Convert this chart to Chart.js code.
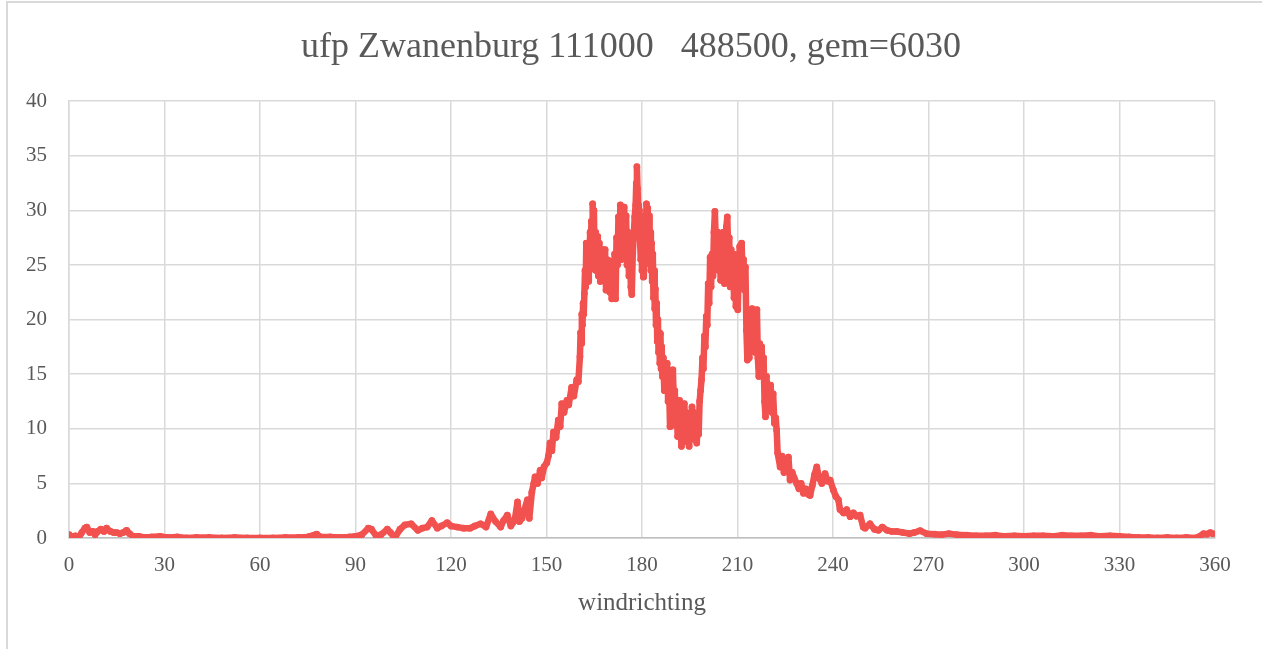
<!DOCTYPE html>
<html>
<head>
<meta charset="utf-8">
<script src="https://cdn.jsdelivr.net/npm/chart.js@4/dist/chart.umd.min.js"></script>
<style>
  html, body { margin: 0; padding: 0; background: #ffffff; overflow: hidden; }
  #frame {
    position: absolute; left: 6px; top: 1px; width: 1300px; height: 700px;
    border-left: 2px solid #d9d9d9; border-top: 2px solid #d9d9d9;
  }
  #wrap { position: absolute; left: 0; top: 0; width: 1262px; height: 649px; }
</style>
</head>
<body>
<div id="frame"></div>
<div id="wrap"><canvas id="ufp-chart" width="1262" height="649"></canvas></div>
<script>
// wind direction (degrees), ten readings per row
const windDir = [
  0, 1, 2, 3, 4, 5, 5.6, 6.5, 7.5, 8.2,
  9, 10, 11, 11.8, 13, 14, 15, 16, 17, 18.1,
  19, 20.2, 22, 24, 26, 28.7, 31, 34, 37, 40,
  44, 48, 52, 56, 60, 64, 68, 72, 75, 77.8,
  79, 82, 85, 88, 90, 92, 94, 95, 96.5, 98,
  100, 101, 102.3, 104, 105.5, 107.5, 109.6, 111, 112.5, 114,
  115.7, 117, 118.8, 120, 122, 124, 126, 127.5, 129.3, 131,
  132.5, 134, 135.6, 136.5, 137.7, 138.8, 140, 140.9, 141.5, 142.3,
  143, 144, 144.6, 145.4, 146, 146.4, 147.2, 148, 148.5, 149.2,
  150.1, 150.6, 151.1, 151.7, 152.2, 153, 153.7, 154.3, 154.8, 155.5,
  156.4, 157, 157.9, 158.6, 159.5, 160,
  160.5, 160.7, 160.9, 161.1, 161.3, 161.5, 161.7, 161.9, 162.1, 162.3,
  162.5, 162.7, 162.9, 163.1, 163.3, 163.5, 163.7, 163.9, 164.1, 164.3,
  164.5, 164.7, 164.9, 165.1, 165.3, 165.5, 165.7, 165.9, 166.1, 166.3,
  166.6, 166.9, 167.2, 167.5, 167.8, 168.1, 168.4, 168.7, 169, 169.3,
  169.6, 169.9, 170.2, 170.5, 170.8, 171.1, 171.4, 171.7, 172, 172.3,
  172.6, 172.9, 173.2, 173.5, 173.8, 174.1, 174.4, 174.7, 175, 175.3,
  175.6, 175.9, 176.2, 176.5, 176.8, 177.1, 177.4, 177.7, 178, 178.2,
  178.4, 178.6, 178.8, 179, 179.2, 179.4, 179.6, 179.8, 180, 180.2,
  180.4, 180.6, 180.8, 181, 181.2, 181.4, 181.6, 181.8, 182, 182.2,
  182.4, 182.6, 182.8, 183, 183.2, 183.4, 183.6, 183.8, 184, 184.2,
  184.4, 184.6, 184.8, 185, 185.2, 185.4, 185.6, 185.8, 186, 186.2,
  186.4, 186.7, 187, 187.3, 187.6, 187.9, 188.2, 188.5, 188.8, 189.1,
  189.4, 189.7, 190, 190.3, 190.6, 190.9, 191.2, 191.5, 191.8, 192.1,
  192.4, 192.7, 193, 193.3, 193.6, 193.9, 194.2, 194.5, 194.8, 195.1,
  195.4, 195.7, 196, 196.3, 196.6, 196.9, 197.2, 197.5, 197.8, 198.1,
  198.4, 198.7, 199, 199.3, 199.6, 199.9, 200.2, 200.5, 200.8, 201.1,
  201.4, 201.7, 202, 202.3, 202.6, 202.9, 203.2, 203.5, 203.8, 204.1,
  204.4, 204.7, 205, 205.3, 205.6, 205.9, 206.2, 206.5, 206.8, 207.1,
  207.4, 207.7, 208, 208.3, 208.6, 208.9, 209.2, 209.5, 209.8, 210.1,
  210.4, 210.7, 211, 211.3, 211.6, 211.9, 212.2, 212.5, 212.8, 213.1,
  213.4, 213.7, 214, 214.3, 214.6, 214.9, 215.2, 215.5, 215.8, 216.1,
  216.4, 216.7, 217, 217.3, 217.6, 217.9, 218.2, 218.5, 218.8, 219.1,
  219.4, 219.7, 220, 220.4, 220.8, 221.2, 221.6, 222, 222.3, 222.6,
  223.4, 224, 224.6, 225.3, 226, 226.5, 227.2, 227.8, 228.6, 229.3,
  230, 230.7, 231.5, 232.2, 232.8, 233.5, 234.2, 234.9, 235.6, 236.5,
  237.5, 238.3, 239.1, 240.1, 240.9, 241.7, 242.2, 243.3, 244.3, 245.4,
  246.4, 247.4, 248.5, 249.5, 250.1, 251.6, 253, 254.3, 255.5, 257,
  258.5, 260, 262, 264, 265.5, 267.4, 269.4, 272, 274, 276.4,
  279, 282, 285, 288, 291, 294, 297, 300, 303, 306,
  309, 312, 315, 318, 321, 324, 327, 330, 333, 336,
  339, 342, 345, 348, 351, 354, 355.5, 356.4, 357.5, 358.5,
  359.3
];
// ufp concentration at each wind direction above
const ufp = [
  0.3, 0.1, 0.2, 0.0, 0.5, 0.9, 1.0, 0.5, 0.6, 0.3,
  0.6, 0.8, 0.6, 0.9, 0.6, 0.5, 0.5, 0.4, 0.5, 0.7,
  0.4, 0.15, 0.15, 0.05, 0.1, 0.15, 0.05, 0.1, 0.0, 0.05,
  0.05, 0.0, 0.05, 0.0, 0.0, 0.0, 0.05, 0.05, 0.1, 0.35,
  0.1, 0.1, 0.05, 0.1, 0.15, 0.3, 0.9, 0.8, 0.2, 0.3,
  0.8, 0.5, 0.0, 0.8, 1.2, 1.3, 0.7, 0.9, 1.0, 1.6,
  0.9, 1.1, 1.4, 1.1, 1.0, 0.9, 0.9, 1.1, 1.3, 1.0,
  2.2, 1.5, 1.0, 1.6, 2.1, 1.1, 1.6, 3.3, 1.5, 1.8,
  2.5, 3.5, 1.8, 4.2, 5.0, 5.6, 5.0, 6.2, 5.5, 6.5,
  6.9, 7.5, 8.7, 8.0, 9.7, 9.2, 10.8, 10.2, 12.3, 11.5,
  12.6, 12.2, 13.8, 13.0, 14.5, 14.3,
  16.6, 18.8, 17.8, 20.5, 19.5, 21.5, 20.5, 22.4, 24.5, 23,
  27, 24, 26.5, 23.5, 27, 24.5, 28, 25, 29, 26,
  30.6, 27, 30, 25.5, 28, 24.5, 27.5, 24.8, 27.6, 24,
  27, 23.5, 26, 23.6, 26.4, 24, 26.4, 22.7, 25.5, 23,
  25.4, 22.5, 24.5, 21.9, 24, 22, 26, 21.9, 27.5, 25,
  29.4, 26, 30.5, 25.5, 29, 26, 30.3, 27, 29.5, 25,
  28, 24, 27, 23, 22.3, 26, 27.6, 29.4, 30.5, 32.5,
  34, 32, 30.5, 28.5, 30, 27.3, 25.5, 28, 24.5, 26.5,
  23.9, 27, 25, 29.5, 27, 30.6, 28, 30.2, 27.5, 29.5,
  26, 28, 24.5, 27, 23.5, 26, 22, 24.5, 21, 22.8,
  19.5, 21.5, 18, 20, 17, 18.8, 16, 18.7, 15.5, 17.5,
  14.8, 16.5, 13.5, 15.8, 14.5, 16, 12.5, 14, 10.2, 13.5,
  11.5, 15.4, 12.5, 13.5, 10.5, 12, 9.3, 11.5, 12.6, 10,
  8.4, 11, 9.5, 12.3, 10, 11.5, 8.8, 10, 8.4, 11,
  9.5, 12, 10.5, 11.5, 9, 10.5, 8.7, 10.5, 9.5, 12.5,
  13.5, 14.5, 16.5, 15.5, 18.5, 17.5, 20.3, 19.5, 23.3, 21.5,
  25.7, 23, 26, 24, 28, 29.9, 27, 25, 28, 24.5,
  27, 23.6, 27.6, 25, 28, 23.3, 26.5, 28.5, 29.4, 26,
  27.5, 23, 26.4, 24.5, 26, 22, 24, 21.2, 23.5, 20.9,
  25, 26.7, 24.5, 27, 24, 25.5, 22.7, 24.8, 19, 16.3,
  18, 16.5, 19.7, 18, 21, 17.5, 19.5, 17, 19, 20.9,
  16.5, 14.8, 17.8, 16, 17.5, 15, 16.5, 12.5, 11.1, 14.8,
  12.5, 14, 12, 14, 11.5, 13.2, 10.5, 11, 9.9, 7.8,
  6.5, 7.5, 6.0, 6.8, 7.4, 5.3, 6.0, 5.5, 5.0, 4.5,
  5.0, 4.1, 4.5, 4.0, 3.9, 4.8, 5.8, 6.5, 5.5, 5.0,
  5.9, 5.2, 5.3, 4.4, 3.8, 3.5, 2.6, 2.3, 2.6, 1.95,
  2.3, 2.0, 2.1, 1.0, 0.9, 1.3, 0.8, 0.7, 1.0, 0.7,
  0.6, 0.6, 0.5, 0.4, 0.5, 0.67, 0.4, 0.35, 0.3, 0.4,
  0.3, 0.25, 0.2, 0.2, 0.25, 0.15, 0.2, 0.15, 0.2, 0.2,
  0.15, 0.25, 0.2, 0.2, 0.25, 0.15, 0.2, 0.15, 0.1, 0.05,
  0.05, 0.0, 0.05, 0.0, 0.05, 0.0, 0.2, 0.4, 0.35, 0.5,
  0.4
];

const xTicks = { min: 0, max: 360, step: 30 };
const yTicks = { min: 0, max: 40, step: 5 };

const chartTitle = 'ufp Zwanenburg 111000   488500, gem=6030';
const xTitle = 'windrichting';

const serif = "'Liberation Serif', 'Times New Roman', serif";
const labelColor = '#595959';
const gridColor = '#d9d9d9';
const red = '#f2524f';

const n = Math.min(windDir.length, ufp.length);
const points = windDir.slice(0, n).map((x, i) => ({ x: x, y: ufp[i] }));

new Chart(document.getElementById('ufp-chart'), {
  type: 'scatter',
  data: {
    datasets: [{
      label: 'ufp',
      data: points,
      showLine: true,
      borderColor: red,
      backgroundColor: red,
      borderWidth: 6.5,
      borderJoinStyle: 'round',
      borderCapStyle: 'round',
      pointRadius: 3.4,
      pointBorderWidth: 0,
      tension: 0
    }]
  },
  options: {
    responsive: false,
    animation: false,
    layout: { padding: 0 },
    plugins: {
      legend: { display: false },
      tooltip: { enabled: false },
      title: {
        display: true,
        text: chartTitle,
        color: labelColor,
        font: { family: serif, size: 36, weight: 'normal' },
        padding: { top: 26, bottom: 32 }
      }
    },
    scales: {
      x: {
        type: 'linear',
        min: xTicks.min,
        max: xTicks.max,
        afterFit: (scale) => { scale.height = 111; },
        ticks: {
          stepSize: xTicks.step,
          color: labelColor,
          padding: 15,
          font: { family: serif, size: 21 }
        },
        grid: { color: gridColor, lineWidth: 1.5, drawTicks: false },
        border: { color: '#bfbfbf', width: 1.5 },
        title: {
          display: true,
          text: xTitle,
          color: labelColor,
          font: { family: serif, size: 25 },
          padding: { top: 0, bottom: 31 }
        }
      },
      y: {
        min: yTicks.min,
        max: yTicks.max,
        afterFit: (scale) => { scale.width = 69; },
        ticks: {
          stepSize: yTicks.step,
          color: labelColor,
          padding: 22,
          font: { family: serif, size: 21 }
        },
        grid: { color: gridColor, lineWidth: 1.5, drawTicks: false },
        border: { color: gridColor, width: 1.5 }
      },
      // empty right-hand strip so the title stays centred on the whole canvas
      yRight: {
        position: 'right',
        min: yTicks.min,
        max: yTicks.max,
        afterFit: (scale) => { scale.width = 47; },
        ticks: { display: false },
        grid: { display: false, drawTicks: false },
        border: { display: false }
      }
    }
  }
});
</script>
</body>
</html>
